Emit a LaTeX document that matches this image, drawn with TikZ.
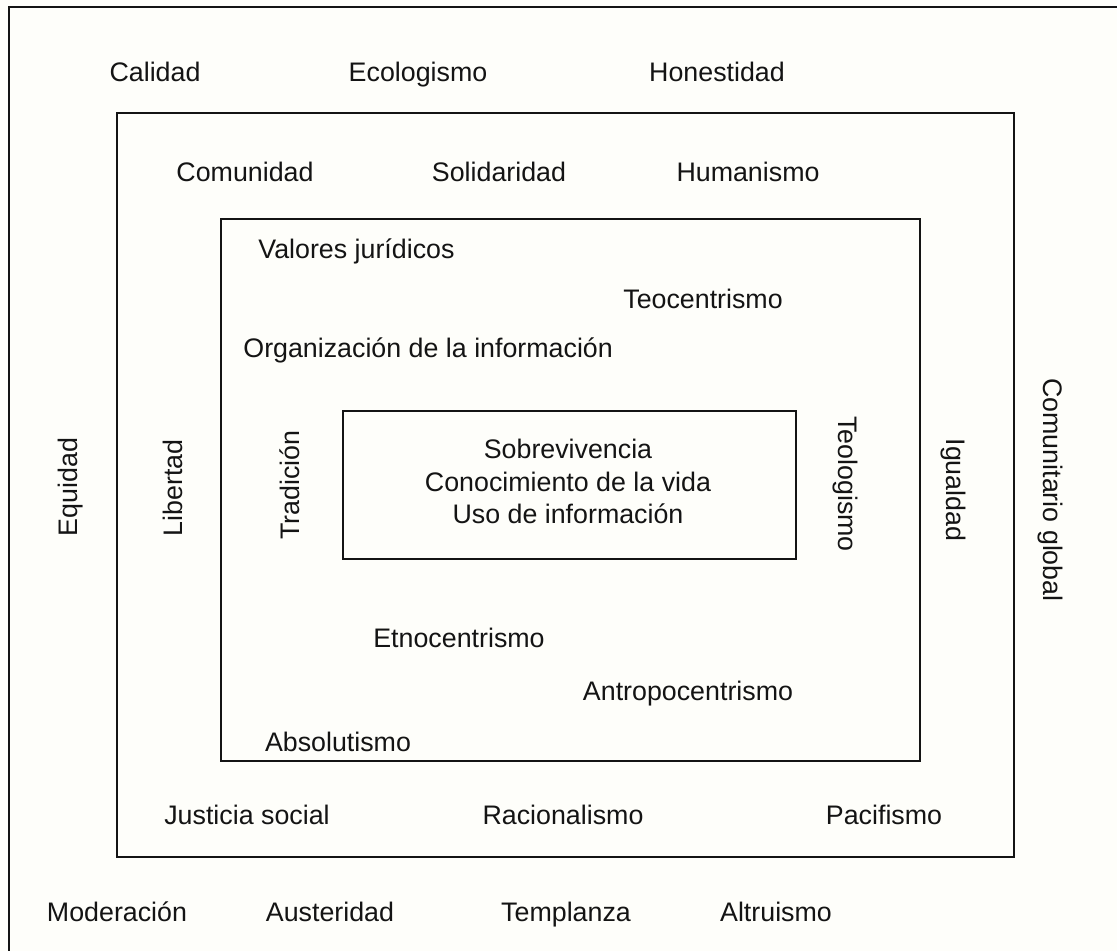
\documentclass[tikz,border=0pt]{standalone}
\usepackage{fontspec}
\setmainfont{Liberation Sans}
\definecolor{paper}{rgb}{0.996,0.996,0.982}
\definecolor{ink}{rgb}{0.08,0.08,0.08}
\begin{document}
\begin{tikzpicture}[x=0.5pt,y=-0.5pt,
  lbl/.style={font=\fontsize{13.4}{16.3}\selectfont, text=ink, inner sep=0pt, text height=9.6pt, text depth=0pt},
  frame/.style={draw=ink, line width=1pt},
  edge/.style={draw=ink, line width=0.8pt}]
\fill[paper] (0,0) rectangle (1117,951);
\useasboundingbox (0,0) rectangle (1117,951);
% outer (cropped) frame
\coordinate (otr) at (1117,7);
\coordinate (otl) at (9,7);
\coordinate (obl) at (9,951);
\draw[edge] (otr) -- (otl) -- (obl);
% boxes
\node[frame, minimum width=448.5pt, minimum height=372pt, anchor=north west, inner sep=0pt] (b2) at (116,112) {};
\node[frame, minimum width=349.5pt, minimum height=271pt, anchor=north west, inner sep=0pt] (b3) at (220,218) {};
\node[frame, minimum width=226.5pt, minimum height=74pt, anchor=north west, inner sep=0pt] (b4) at (342,410) {};
% centre text
\node[lbl] (core1) at (568,449) {Sobrevivencia};
\node[lbl] (core2) at (568,482) {Conocimiento de la vida};
\node[lbl] (core3) at (568,514) {Uso de información};
% top
\node[lbl] (calidad) at (155,72) {Calidad};
\node[lbl] (ecol) at (418,72) {Ecologismo};
\node[lbl] (hon) at (717,72) {Honestidad};
\node[lbl] (comu) at (245,172) {Comunidad};
\node[lbl] (soli) at (499,172) {Solidaridad};
\node[lbl] (huma) at (748,172) {Humanismo};
\node[lbl, anchor=west] (valo) at (258,249) {Valores jurídicos};
\node[lbl] (teoc) at (703,299) {Teocentrismo};
\node[lbl, anchor=west] (orga) at (243,348) {Organización de la información};
% sides
\node[lbl, rotate=90] (equi) at (68,487) {Equidad};
\node[lbl, rotate=90] (libe) at (173,488) {Libertad};
\node[lbl, rotate=90] (trad) at (290,485) {Tradición};
\node[lbl, rotate=-90] (teol) at (848,484) {Teologismo};
\node[lbl, rotate=-90] (igua) at (956,490) {Igualdad};
\node[lbl, rotate=-90] (cglo) at (1053,490) {Comunitario global};
% bottom
\node[lbl] (etno) at (459,638) {Etnocentrismo};
\node[lbl] (antr) at (688,691) {Antropocentrismo};
\node[lbl] (abso) at (338,742) {Absolutismo};
\node[lbl] (just) at (247,815) {Justicia social};
\node[lbl] (raci) at (563,815) {Racionalismo};
\node[lbl] (paci) at (884,815) {Pacifismo};
\node[lbl] (mode) at (117,912) {Moderación};
\node[lbl] (aust) at (330,912) {Austeridad};
\node[lbl] (temp) at (566,912) {Templanza};
\node[lbl] (altr) at (776,912) {Altruismo};
\end{tikzpicture}
\end{document}
